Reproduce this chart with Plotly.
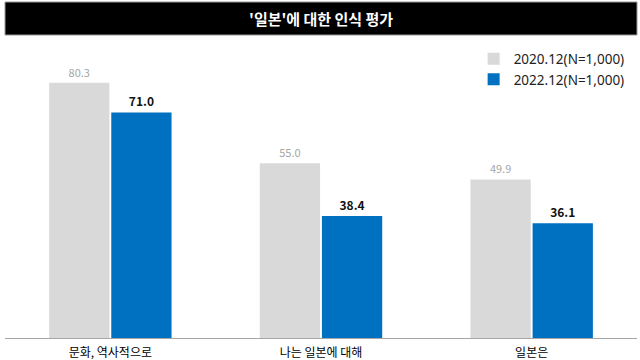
import plotly.graph_objects as go

categories = ["문화, 역사적으로", "나는 일본에 대해", "일본은"]
series_names = ["2020.12(N=1,000)", "2022.12(N=1,000)"]
values_2020 = [80.3, 55.0, 49.9]
values_2022 = [71.0, 38.4, 36.1]
title_text = "'일본'에 대한 인식 평가"

FONT = "Noto Sans CJK KR"

fig = go.Figure()
fig.add_trace(go.Bar(
    x=categories, y=values_2020, name=series_names[0],
    marker=dict(color="#d9d9d9", line=dict(width=0)),
    text=[f"{v:.1f}" for v in values_2020], textposition="outside",
    textfont=dict(family=FONT, size=11, color="#a6a6a6"),
    cliponaxis=False,
))
fig.add_trace(go.Bar(
    x=categories, y=values_2022, name=series_names[1],
    marker=dict(color="#0070c0", line=dict(width=0)),
    text=[f"<b>{v:.1f}</b>" for v in values_2022], textposition="outside",
    textfont=dict(family=FONT, size=12, color="#111111"),
    cliponaxis=False,
))

fig.update_layout(
    width=640, height=360,
    margin=dict(l=5, r=3, t=52, b=22, autoexpand=False),
    paper_bgcolor="white", plot_bgcolor="white",
    barmode="group", bargap=0.41, bargroupgap=0.03,
    showlegend=True,
    legend=dict(x=0.7415, y=1.03, xanchor="left", yanchor="top",
                font=dict(family="Noto Sans", size=13.5, color="#222222"),
                itemwidth=30, tracegroupgap=9, bgcolor="rgba(0,0,0,0)"),
    font=dict(family=FONT),
    shapes=[dict(type="rect", xref="paper", yref="paper",
                 x0=0.0, x1=1.0, y0=1.0594, y1=1.1748,
                 fillcolor="black", line=dict(color="#999999", width=1), layer="above")],
    annotations=[dict(text=f"<b>{title_text}</b>", xref="paper", yref="paper",
                      x=0.5, y=1.117, xanchor="center", yanchor="middle",
                      showarrow=False, font=dict(family=FONT, size=15, color="white"))],
)
fig.update_xaxes(showline=True, linecolor="#a6a6a6", linewidth=1, automargin=False,
                 ticks="", ticklabelstandoff=4,
                 tickfont=dict(family=FONT, size=12, color="#000000"),
                 showgrid=False)
fig.update_yaxes(range=[0, 90], visible=False, showgrid=False, automargin=False)

fig.write_html("out.html", config={"displayModeBar": False},
               post_script="document.body.style.margin='0';document.body.style.overflow='hidden';")
